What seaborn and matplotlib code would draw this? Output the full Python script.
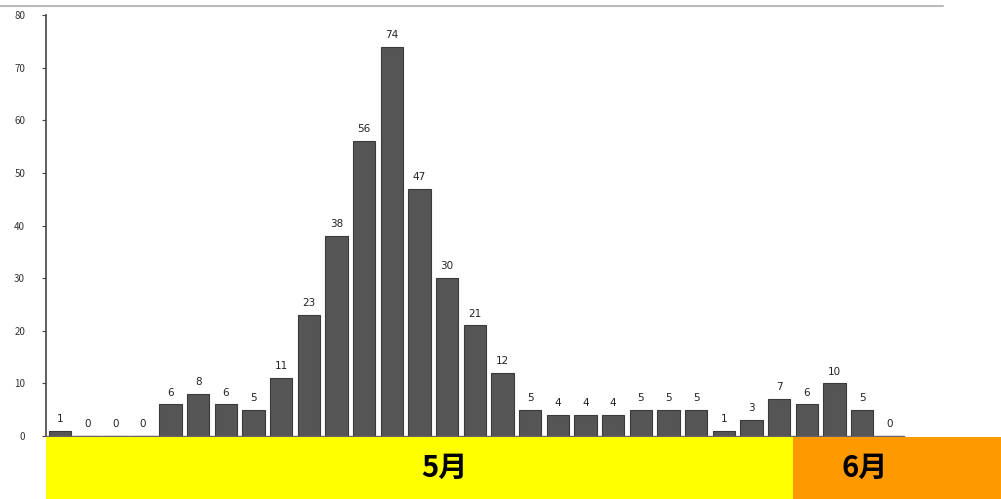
import matplotlib
matplotlib.use("Agg")
import matplotlib.pyplot as plt
import seaborn as sns
import pandas as pd
from matplotlib.lines import Line2D
from matplotlib.patches import Rectangle

# data
days = [f"d{i+1}" for i in range(31)]
counts = [1, 0, 0, 0, 6, 8, 6, 5, 11, 23, 38, 56, 74, 47, 30, 21, 12,
          5, 4, 4, 4, 5, 5, 5, 1, 3, 7, 6, 10, 5, 0]
y_ticks = [0, 10, 20, 30, 40, 50, 60, 70, 80]
month_labels = ["5月", "6月"]
month_colors = ["#ffff00", "#ff9900"]
may_bar_count = 27

sns.set_theme(style="white")
plt.rcParams['font.family'] = ['Noto Sans CJK JP', 'DejaVu Sans']

W, H = 1001, 499
fig = plt.figure(figsize=(W / 100, H / 100), dpi=100)
fig.patch.set_facecolor("white")

ax = fig.add_axes([46 / W, 63 / H, 897 / W, 421 / H])
df = pd.DataFrame({"day": days, "count": counts})
sns.barplot(data=df, x="day", y="count", color="#555555", width=0.8,
            saturation=1, edgecolor="#3a3a3a", linewidth=0.8, ax=ax)

ax.set_xlim(-0.5, 31.92)
ax.set_ylim(0, 80)
ax.set_yticks(y_ticks)
ax.set_yticklabels([str(v) for v in y_ticks], fontsize=7, color="#333333")
ax.set_xticks([])
ax.set_xlabel("")
ax.set_ylabel("")
for s in ["top", "right"]:
    ax.spines[s].set_visible(False)
ax.spines["left"].set_color("#444444")
ax.spines["left"].set_linewidth(1.2)
ax.spines["bottom"].set_color("#666666")
ax.spines["bottom"].set_linewidth(1.0)
ax.spines["bottom"].set_bounds(-0.5, len(counts) - 0.5)
ax.tick_params(axis="y", left=True, length=3, width=0.8, color="#444444", pad=12)
ax.set_facecolor("white")

for i, v in enumerate(counts):
    ax.text(i, v + 1.3, str(v), ha="center", va="bottom", fontsize=7.5,
            color="#222222", family=["DejaVu Sans"])

# month band
bax = fig.add_axes([46 / W, 0, (W - 46) / W, 62 / H])
bax.set_xlim(-0.5, 34.02)
bax.set_ylim(0, 1)
bax.axis("off")
bax.add_patch(Rectangle((-0.5, 0), may_bar_count, 1, color=month_colors[0], lw=0))
bax.add_patch(Rectangle((may_bar_count - 0.5, 0), 34.02 - (may_bar_count - 0.5), 1,
                        color=month_colors[1], lw=0))
bax.text(13.9, 0.5, month_labels[0], ha="center", va="center", fontsize=21,
         fontweight="bold", color="black")
bax.text(29.1, 0.5, month_labels[1], ha="center", va="center", fontsize=21,
         fontweight="bold", color="black")

# top border line
fig.add_artist(Line2D([0, 943 / W], [1 - 6 / H, 1 - 6 / H], color="#bbbbbb", lw=1.5))

fig.savefig("out.png", dpi=100)
